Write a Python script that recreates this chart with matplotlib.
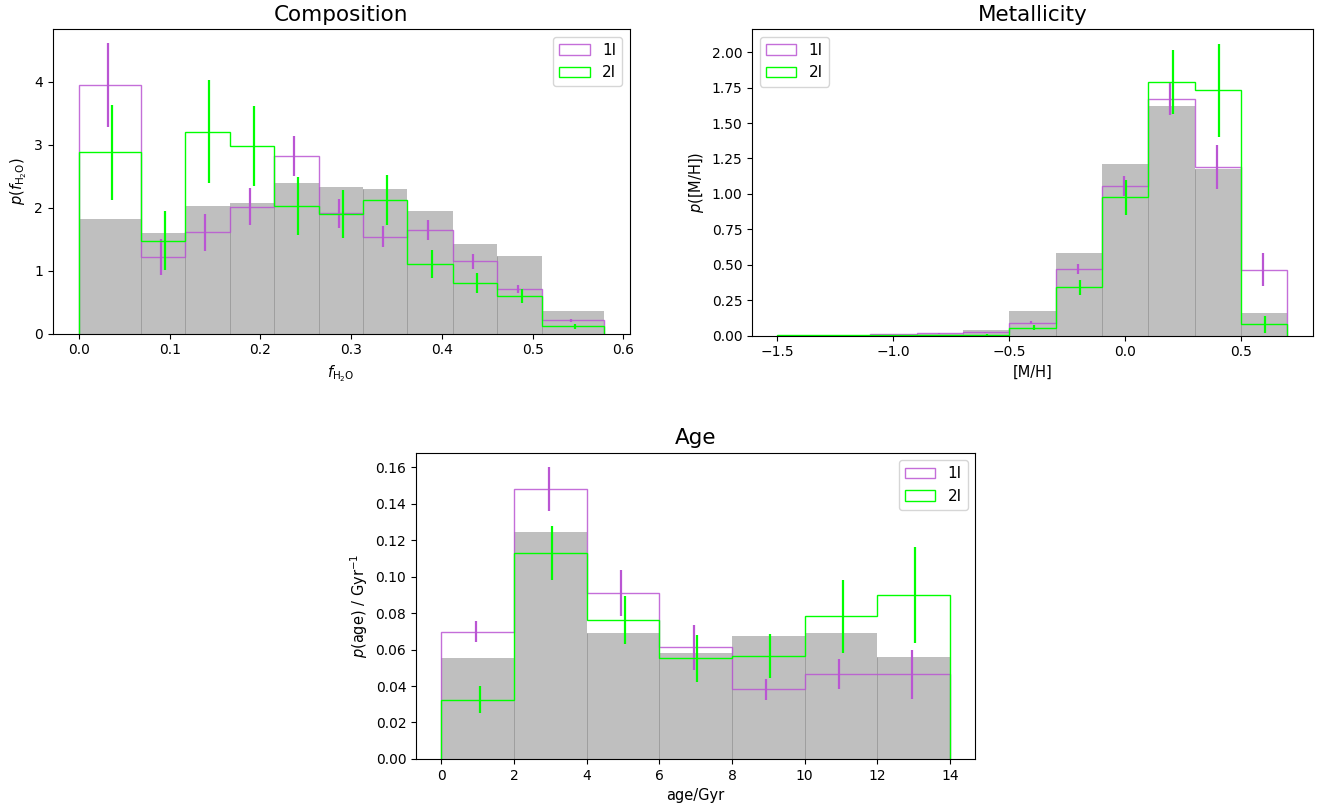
import numpy as np
import matplotlib
matplotlib.use('Agg')
import matplotlib.pyplot as plt

c1 = 'mediumorchid'
c2 = 'lime'

# --- composition ---
comp_edges = [0.0, 0.068, 0.117, 0.166, 0.215, 0.264, 0.313, 0.362, 0.412, 0.461, 0.510, 0.578]
comp_pop = [1.825, 1.60, 2.03, 2.08, 2.40, 2.33, 2.30, 1.95, 1.43, 1.24, 0.365]
comp_1i = [3.95, 1.22, 1.61, 2.02, 2.82, 1.91, 1.54, 1.65, 1.15, 0.71, 0.21]
comp_1i_err = [0.66, 0.29, 0.29, 0.30, 0.32, 0.23, 0.17, 0.16, 0.12, 0.07, 0.03]
comp_2i = [2.88, 1.48, 3.21, 2.98, 2.03, 1.90, 2.12, 1.11, 0.80, 0.60, 0.12]
comp_2i_err = [0.76, 0.47, 0.82, 0.63, 0.46, 0.38, 0.40, 0.22, 0.16, 0.11, 0.04]

# --- metallicity ---
met_edges = [-1.5, -1.3, -1.1, -0.9, -0.7, -0.5, -0.3, -0.1, 0.1, 0.3, 0.5, 0.7]
met_pop = [0.003, 0.003, 0.006, 0.015, 0.04, 0.174, 0.582, 1.21, 1.62, 1.176, 0.16]
met_1i = [0.001, 0.001, 0.010, 0.016, 0.023, 0.092, 0.472, 1.054, 1.67, 1.19, 0.467]
met_1i_err = [0.0, 0.0, 0.001, 0.002, 0.003, 0.01, 0.035, 0.07, 0.11, 0.157, 0.117]
met_2i = [0.003, 0.003, 0.003, 0.006, 0.008, 0.057, 0.343, 0.976, 1.79, 1.73, 0.082]
met_2i_err = [0.0, 0.0, 0.0, 0.001, 0.002, 0.02, 0.053, 0.125, 0.225, 0.33, 0.06]

# --- age ---
age_edges = [0, 2, 4, 6, 8, 10, 12, 14]
age_pop = [0.0555, 0.1246, 0.0692, 0.0583, 0.0676, 0.0692, 0.0561]
age_1i = [0.0698, 0.148, 0.091, 0.0612, 0.0382, 0.0468, 0.0464]
age_1i_err = [0.0058, 0.0119, 0.0126, 0.0123, 0.0056, 0.0082, 0.0135]
age_2i = [0.0325, 0.1129, 0.076, 0.0552, 0.0564, 0.0782, 0.0899]
age_2i_err = [0.0073, 0.015, 0.0132, 0.013, 0.0121, 0.0199, 0.0263]


def panel(ax, edges, pop, v1, e1, v2, e2, off, title, xlabel, ylabel, loc):
    edges = np.array(edges)
    centers = 0.5 * (edges[1:] + edges[:-1])
    ax.hist(centers, bins=edges, weights=pop, color='gray', alpha=0.5)
    # faint seams between neighbouring population bars
    seam = np.minimum(pop[:-1], pop[1:])
    ax.vlines(edges[1:-1], 0, seam, color='#999999', lw=0.6)
    ax.hist(centers, bins=edges, weights=v1, histtype='step', color=c1, alpha=0.85, lw=1, label='1I')
    ax.errorbar(centers - off, v1, yerr=e1, fmt='none', ecolor=c1, elinewidth=1.6)
    ax.hist(centers, bins=edges, weights=v2, histtype='step', color=c2, lw=1, label='2I')
    ax.errorbar(centers + off, v2, yerr=e2, fmt='none', ecolor=c2, elinewidth=1.6)
    ax.set_title(title, fontsize=15.5)
    ax.set_xlabel(xlabel, fontsize=10.5)
    ax.set_ylabel(ylabel, fontsize=10.5)
    ax.legend(loc=loc, fontsize=11)


fig = plt.figure(figsize=(13.3, 8.07), dpi=100)
ax1 = fig.add_axes([0.0396, 0.5865, 0.4339, 0.3776])
ax2 = fig.add_axes([0.5654, 0.584, 0.4218, 0.380])
ax3 = fig.add_axes([0.3128, 0.0595, 0.4205, 0.3796])

panel(ax1, comp_edges, comp_pop, comp_1i, comp_1i_err, comp_2i, comp_2i_err, 0.0022,
      'Composition', r'$f_{\mathrm{H_2O}}$', r'$p(f_{\mathrm{H_2O}})$', 'upper right')
panel(ax2, met_edges, met_pop, met_1i, met_1i_err, met_2i, met_2i_err, 0.005,
      'Metallicity', '[M/H]', r'$p$([M/H])', 'upper left')
panel(ax3, age_edges, age_pop, age_1i, age_1i_err, age_2i, age_2i_err, 0.05,
      'Age', 'age/Gyr', r'$p(\mathrm{age})$ / Gyr$^{-1}$', 'upper right')

fig.savefig('out.png', dpi=100)
